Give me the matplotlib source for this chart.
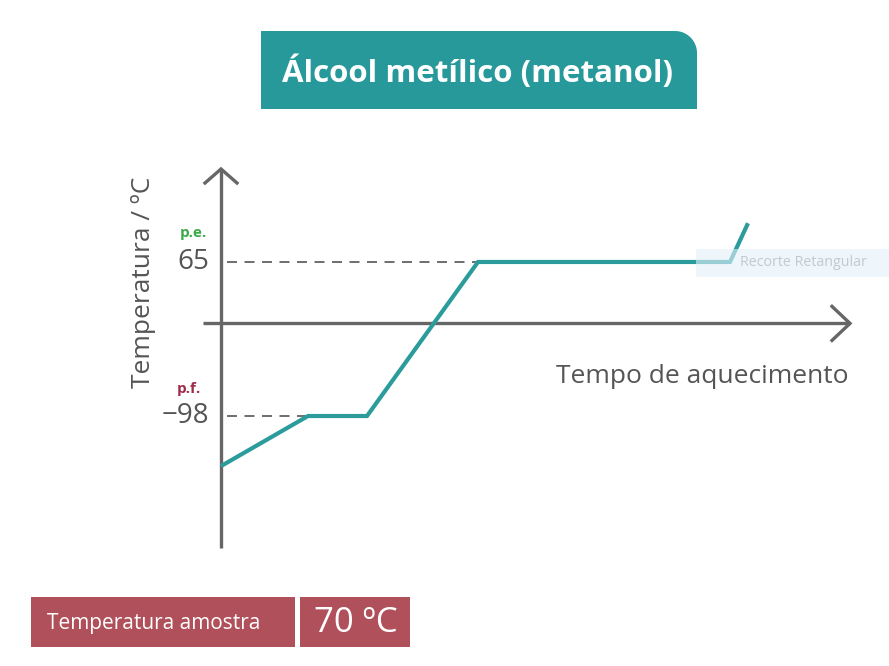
import numpy as np
import matplotlib
matplotlib.use("Agg")
import matplotlib.pyplot as plt
from matplotlib.patches import Rectangle, Polygon

# ---- data ----
time = [0, 87, 146, 257, 509, 527]          # heating time (arbitrary units)
temp = [-151, -98, -98, 65, 65, 106]        # temperature / ºC
mp_value = -98
bp_value = 65
tick_labels = ["65", "\u221298"]
title = "Álcool metílico (metanol)"
xlabel = "Tempo de aquecimento"
ylabel = "Temperatura / ºC"
sample_label = "Temperatura amostra"
sample_value = "70 ºC"

W, H = 889, 666
plt.rcParams['font.family'] = ['Open Sans', 'DejaVu Sans']
fig = plt.figure(figsize=(W / 100, H / 100), dpi=100)
ax = fig.add_axes([0, 0, 1, 1])
ax.set_axis_off()

# mapping: px x = t + 221 ; px y = 323.4 - 0.945*T
S = 0.945
Y0 = 323.4
ax.set_xlim(-221, W - 221)
ax.set_ylim((Y0 - H) / S, Y0 / S)

def fx(px):  # pixel x -> figure fraction
    return px / W
def fy(py):
    return 1 - py / H

axis_col = "#666666"
teal = "#2b9c9b"
txt = "#555555"

# axes
ax.plot([0, 0], [(Y0 - 548) / S, (Y0 - 169) / S], color=axis_col, lw=2.4, solid_capstyle='butt')
ax.plot([-18, 629], [0, 0], color=axis_col, lw=2.4, solid_capstyle='butt')
# arrow heads (open chevrons)
ax.plot([-16, 0, 16], [(Y0 - 183) / S, (Y0 - 169) / S, (Y0 - 183) / S], color=axis_col, lw=2.4,
        solid_joinstyle='miter')
ax.plot([611, 629, 611], [17 / S, 0, -17 / S], color=axis_col, lw=2.4, solid_joinstyle='miter')

# dashed guides
ax.plot([6, time[3]], [bp_value, bp_value], color=txt, lw=1.2, dashes=(6, 4.5))
ax.plot([6, time[1]], [mp_value, mp_value], color=txt, lw=1.2, dashes=(6, 4.5))

# heating curve
ax.plot(time, temp, color=teal, lw=3.0, solid_joinstyle='miter', solid_capstyle='butt', zorder=5)

# tick labels
ax.text(-12, bp_value, tick_labels[0], ha='right', va='center', fontsize=20, color=txt)
ax.text(-12, mp_value, tick_labels[1], ha='right', va='center', fontsize=20, color=txt)
ax.text(-14, bp_value + 31, "p.e.", ha='right', va='center', fontsize=11, color="#3aaa4a",
        fontweight='bold')
ax.text(-20, mp_value + 29, "p.f.", ha='right', va='center', fontsize=11, color="#9e2b4a",
        fontweight='bold')

# axis labels
ax.text(-78, (Y0 - 282) / S, ylabel, rotation=90, ha='center', va='center', fontsize=19,
        color=txt)
ax.text(627, (Y0 - 376) / S, xlabel, ha='right', va='center', fontsize=19, color=txt)

# title box with rounded top-right corner
x0, x1, y0, y1, r = 261, 697, 31, 109, 22
ang = np.linspace(np.pi / 2, 0, 20)
arc = [(x1 - r + r * np.cos(a), y0 + r - r * np.sin(a)) for a in ang]
pts = [(x0, y1), (x0, y0)] + arc + [(x1, y1)]
pts = [(fx(px), fy(py)) for px, py in pts]
fig.patches.append(Polygon(pts, closed=True, transform=fig.transFigure, facecolor="#27999a",
                           edgecolor='none'))
fig.text(fx(478), fy(72), title, ha='center', va='center', fontsize=22.5, fontweight='bold',
         color='white')

# bottom boxes
red = "#b0505a"
fig.patches.append(Rectangle((fx(31), fy(647)), fx(295) - fx(31), fy(597) - fy(647),
                             transform=fig.transFigure, facecolor=red, edgecolor='none'))
fig.patches.append(Rectangle((fx(300), fy(647)), fx(410) - fx(300), fy(597) - fy(647),
                             transform=fig.transFigure, facecolor=red, edgecolor='none'))
fig.text(fx(47), fy(624), sample_label, ha='left', va='center', fontsize=15, color='white')
fig.text(fx(356), fy(623), sample_value, ha='center', va='center', fontsize=25, color='white')

# faint tooltip artifact
fig.patches.append(Rectangle((fx(696), fy(277)), fx(889) - fx(696), fy(249) - fy(277),
                             transform=fig.transFigure, facecolor="#e3f1fb", edgecolor='none',
                             alpha=0.6, zorder=6))
fig.text(fx(740), fy(263), "Recorte Retangular", ha='left', va='center', fontsize=10.3,
         color="#c2cad1", zorder=7)

fig.savefig("out.png", dpi=100)
